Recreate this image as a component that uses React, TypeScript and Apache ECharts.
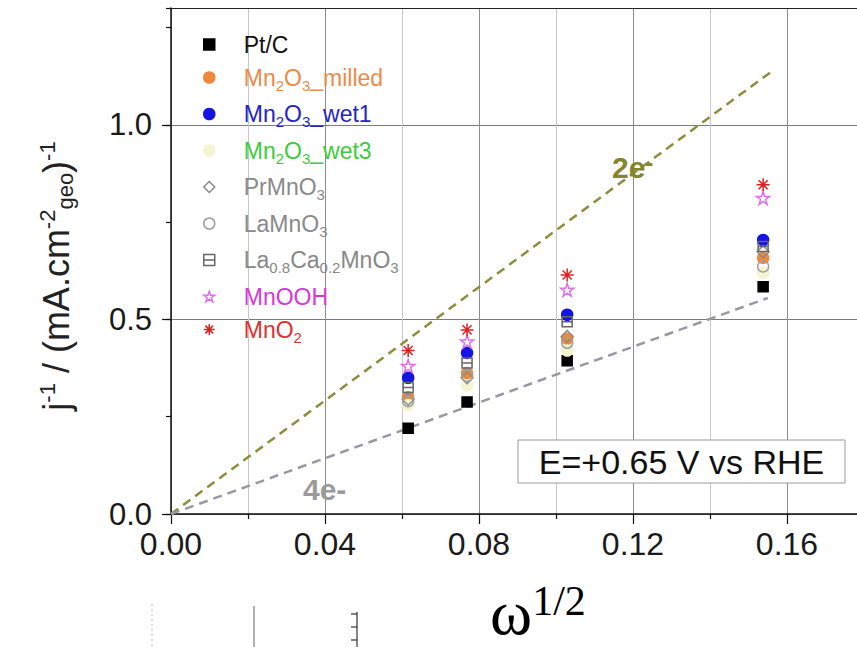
import React, { useEffect, useRef } from 'react';
import * as echarts from 'echarts';

// ---- data ----
const xValues = [0.0616, 0.0769, 0.1029, 0.1538];
const ptC = [0.22, 0.288, 0.394, 0.584];
const mn2o3Milled = [0.3, 0.362, 0.45, 0.658];
const mn2o3Wet1 = [0.35, 0.414, 0.512, 0.704];
const mn2o3Wet3 = [0.28, 0.33, 0.42, 0.62];
const prMnO3 = [0.295, 0.35, 0.456, 0.674];
const laMnO3 = [0.29, 0.355, 0.44, 0.636];
const laCaMnO3 = [0.325, 0.388, 0.494, 0.687];
const mnOOH = [0.38, 0.443, 0.576, 0.812];
const mnO2 = [0.42, 0.473, 0.614, 0.846];

const line2eX = [0, 0.156];
const line2eY = [0, 1.137];
const line4eX = [0, 0.155];
const line4eY = [0, 0.555];

const seriesNames = ['Pt/C', 'Mn2O3_milled', 'Mn2O3_wet1', 'Mn2O3_wet3', 'PrMnO3', 'LaMnO3', 'La0.8Ca0.2MnO3', 'MnOOH', 'MnO2'];
const seriesValues = [ptC, mn2o3Milled, mn2o3Wet1, mn2o3Wet3, prMnO3, laMnO3, laCaMnO3, mnOOH, mnO2];

const xMin = 0, xMax = 0.2, xInterval = 0.04;
const yMin = 0, yMax = 1.3, yInterval = 0.5, yMinorInterval = 0.25;

// ---- styles ----
const FONT = '"Liberation Sans", Arial, sans-serif';
const SERIF = '"Liberation Serif", "Times New Roman", serif';
const STAR = 'path://M5,0L6.12,3.455L9.755,3.455L6.82,5.59L7.94,9.05L5,6.91L2.06,9.05L3.18,5.59L0.245,3.455L3.88,3.455Z';
const ASTER = 'path://M5,0L5,10M0,5L10,5M1.5,1.5L8.5,8.5M8.5,1.5L1.5,8.5';
const BOXLINE = 'path://M0,0L10,0L10,10L0,10ZM0,5L10,5';
const CLEAR = 'rgba(255,255,255,0)';

const seriesStyles = [
  { symbol: 'rect', size: 10, color: '#000000', border: '#000000', text: '#111111' },
  { symbol: 'circle', size: 11, color: '#f0883c', border: '#f0883c', text: '#ec8a48' },
  { symbol: 'circle', size: 11, color: '#1414e6', border: '#1414e6', text: '#2424c8' },
  { symbol: 'circle', size: 11, color: '#f4f4d0', border: '#f4f4d0', text: '#3ccc3c' },
  { symbol: 'diamond', size: 12, color: CLEAR, border: '#8a8a8a', text: '#8a8a8a' },
  { symbol: 'circle', size: 11, color: CLEAR, border: '#a0a0a0', text: '#8a8a8a' },
  { symbol: BOXLINE, size: 10, color: CLEAR, border: '#666666', text: '#888888' },
  { symbol: STAR, size: 13, color: CLEAR, border: '#e070ea', text: '#d838d8' },
  { symbol: ASTER, size: 13, color: '#e02020', border: '#e02020', text: '#e03030' },
];

const legendLabels: Record<string, string> = {
  'Pt/C': '{g| }{m|Pt/C}',
  'Mn2O3_milled': '{g| }{m|Mn}{s|2}{m|O}{s|3}{m|_milled}',
  'Mn2O3_wet1': '{g| }{m|Mn}{s|2}{m|O}{s|3}{m|_wet1}',
  'Mn2O3_wet3': '{g| }{m|Mn}{s|2}{m|O}{s|3}{m|_wet3}',
  'PrMnO3': '{g| }{m|PrMnO}{s|3}',
  'LaMnO3': '{g| }{m|LaMnO}{s|3}',
  'La0.8Ca0.2MnO3': '{g| }{m|La}{s|0.8}{m|Ca}{s|0.2}{m|MnO}{s|3}',
  'MnOOH': '{g| }{m|MnOOH}',
  'MnO2': '{g| }{m|MnO}{s|2}',
};

function legendRich(color: string) {
  return {
    g: { width: 24, fontSize: 23, lineHeight: 30, color },
    m: { fontSize: 23, lineHeight: 30, fontFamily: FONT, color },
    s: { fontSize: 15, lineHeight: 14, verticalAlign: 'bottom', fontFamily: FONT, color },
  };
}

function buildOption() {
  const scatter = seriesNames.map((name, i) => ({
    type: 'scatter',
    name,
    xAxisIndex: 0,
    yAxisIndex: 0,
    data: xValues.map((x, j) => [x, seriesValues[i][j]]),
    symbol: seriesStyles[i].symbol,
    symbolSize: seriesStyles[i].size,
    itemStyle: {
      color: seriesStyles[i].color,
      borderColor: seriesStyles[i].border,
      borderWidth: 1.5,
      opacity: 1,
    },
    z: 3,
  }));

  const lines = [
    {
      type: 'line', name: '2e', xAxisIndex: 0, yAxisIndex: 0,
      data: line2eX.map((x, i) => [x, line2eY[i]]),
      symbol: 'none', showSymbol: false, silent: true,
      lineStyle: { color: '#8d8d3e', width: 2.5, type: [9, 6] }, z: 2,
    },
    {
      type: 'line', name: '4e', xAxisIndex: 0, yAxisIndex: 0,
      data: line4eX.map((x, i) => [x, line4eY[i]]),
      symbol: 'none', showSymbol: false, silent: true,
      lineStyle: { color: '#9898a4', width: 2.5, type: [9, 6] }, z: 2,
    },
  ];

  return {
    animation: false,
    backgroundColor: '#ffffff',
    grid: { left: 171, top: 8, width: 770, height: 506, containLabel: false, outerBoundsMode: 'none' },
    xAxis: [
      {
        type: 'value', min: xMin, max: xMax, interval: xInterval, position: 'bottom',
        axisLine: { show: true, onZero: false, lineStyle: { color: '#111', width: 1.5 } },
        axisTick: { show: true, length: 10, lineStyle: { color: '#111', width: 1.2 } },
        minorTick: { show: true, splitNumber: 2, length: 5, lineStyle: { color: '#111', width: 1.2 } },
        axisLabel: {
          fontSize: 32, fontFamily: FONT, color: '#1a1a1a', margin: 14, showMaxLabel: false,
          formatter: (v: number) => v.toFixed(2),
        },
        splitLine: { show: true, lineStyle: { color: '#8c8c8c', width: 1 } },
        minorSplitLine: { show: true, lineStyle: { color: '#c8c8c8', width: 1 } },
      },
      {
        type: 'value', min: xMin, max: xMax, position: 'top',
        axisLine: { show: true, onZero: false, lineStyle: { color: '#222', width: 1 } },
        axisTick: { show: false }, axisLabel: { show: false }, splitLine: { show: false },
      },
    ],
    yAxis: [
      {
        type: 'value', min: yMin, max: yMax, interval: yInterval, position: 'left',
        axisLine: { show: true, onZero: false, lineStyle: { color: '#111', width: 1.5 } },
        axisTick: { show: true, length: 9, lineStyle: { color: '#111', width: 1.2 } },
        axisLabel: {
          fontSize: 31, fontFamily: FONT, color: '#1a1a1a', margin: 19, showMaxLabel: false,
          formatter: (v: number) => v.toFixed(1),
        },
        splitLine: { show: true, lineStyle: { color: '#7a7a7a', width: 1 } },
      },
      {
        type: 'value', min: yMin, max: yMax, interval: yMinorInterval, position: 'left',
        axisLine: { show: false },
        axisTick: { show: true, length: 5, lineStyle: { color: '#111', width: 1.2 } },
        axisLabel: { show: false }, splitLine: { show: false },
      },
    ],
    legend: {
      orient: 'vertical', left: 203, top: 33, padding: 0, itemGap: 10,
      itemWidth: 11, itemHeight: 11, selectedMode: false,
      itemStyle: { borderWidth: 1.5 },
      data: seriesNames.map((name, i) => ({
        name,
        textStyle: { color: seriesStyles[i].text, fontFamily: FONT, fontSize: 23, rich: legendRich(seriesStyles[i].text) },
      })),
      formatter: (name: string) => legendLabels[name] || name,
      textStyle: { fontFamily: FONT, fontSize: 23 },
    },
    graphic: [
      {
        type: 'text', x: 56, y: 276, rotation: Math.PI / 2, z: 100,
        style: {
          text: '{m|j}{p|-1}{m| / (mA.cm}{p|-2}{b|geo}{m|)}{p|-1}',
          align: 'center', verticalAlign: 'middle', fill: '#222',
          fontFamily: FONT, fontSize: 36,
          rich: {
            m: { fontSize: 36, lineHeight: 40, fontFamily: FONT, fill: '#222' },
            p: { fontSize: 22, lineHeight: 22, verticalAlign: 'top', fontFamily: FONT, fill: '#222' },
            b: { fontSize: 22, lineHeight: 22, verticalAlign: 'bottom', fontFamily: FONT, fill: '#222' },
          },
        },
      },
      {
        type: 'text', x: 490, y: 580, z: 100,
        style: {
          text: '{w|ω}{s|1/2}', align: 'left', verticalAlign: 'top', fill: '#000',
          fontFamily: SERIF, fontSize: 64,
          rich: {
            w: { fontSize: 64, lineHeight: 64, fontFamily: SERIF, fill: '#000' },
            s: { fontSize: 42, lineHeight: 42, verticalAlign: 'top', fontFamily: SERIF, fill: '#000' },
          },
        },
      },
      {
        type: 'rect', z: 100,
        shape: { x: 518, y: 440, width: 327, height: 43 },
        style: { fill: '#ffffff', stroke: '#9a9a9a', lineWidth: 1 },
      },
      {
        type: 'text', x: 681.5, y: 462, z: 101,
        style: { text: 'E=+0.65 V vs RHE', fontSize: 34, fontFamily: FONT, fill: '#111', align: 'center', verticalAlign: 'middle' },
      },
      {
        type: 'text', x: 612, y: 167, z: 100,
        style: {
          text: '{m|2e}{p|-}', align: 'left', verticalAlign: 'middle', fill: '#85852e',
          fontFamily: FONT, fontSize: 30, fontWeight: 'bold',
          rich: {
            m: { fontSize: 30, lineHeight: 34, fontWeight: 'bold', fontFamily: FONT, fill: '#85852e' },
            p: { fontSize: 24, lineHeight: 22, verticalAlign: 'top', fontWeight: 'bold', fontFamily: FONT, fill: '#85852e' },
          },
        },
      },
      {
        type: 'text', x: 303, y: 489, z: 100,
        style: { text: '4e-', fontSize: 30, fontWeight: 'bold', fontFamily: FONT, fill: '#9a9a9a', align: 'left', verticalAlign: 'middle' },
      },
      { type: 'line', z: 100, shape: { x1: 152, y1: 604, x2: 152, y2: 647 }, style: { stroke: '#bbbbbb', lineWidth: 1, lineDash: [2, 3] } },
      { type: 'line', z: 100, shape: { x1: 254, y1: 606, x2: 254, y2: 647 }, style: { stroke: '#999999', lineWidth: 1.5 } },
      { type: 'line', z: 100, shape: { x1: 357, y1: 612, x2: 357, y2: 647 }, style: { stroke: '#333333', lineWidth: 1.2 } },
      { type: 'line', z: 100, shape: { x1: 351, y1: 614, x2: 357, y2: 614 }, style: { stroke: '#333333', lineWidth: 1.2 } },
      { type: 'line', z: 100, shape: { x1: 351, y1: 627, x2: 357, y2: 627 }, style: { stroke: '#333333', lineWidth: 1.2 } },
      { type: 'line', z: 100, shape: { x1: 351, y1: 640, x2: 357, y2: 640 }, style: { stroke: '#333333', lineWidth: 1.2 } },
    ],
    series: [...lines, ...scatter],
  };
}

export default function App() {
  const ref = useRef<HTMLDivElement>(null);
  useEffect(() => {
    if (!ref.current) return;
    const chart = echarts.init(ref.current, null, { renderer: 'svg' });
    chart.setOption(buildOption() as any);
    return () => chart.dispose();
  }, []);
  return (
    <div style={{ position: 'absolute', left: 0, top: 0, width: 857, height: 647, overflow: 'hidden', background: '#ffffff' }}>
      <div ref={ref} style={{ width: 960, height: 647 }} />
    </div>
  );
}
